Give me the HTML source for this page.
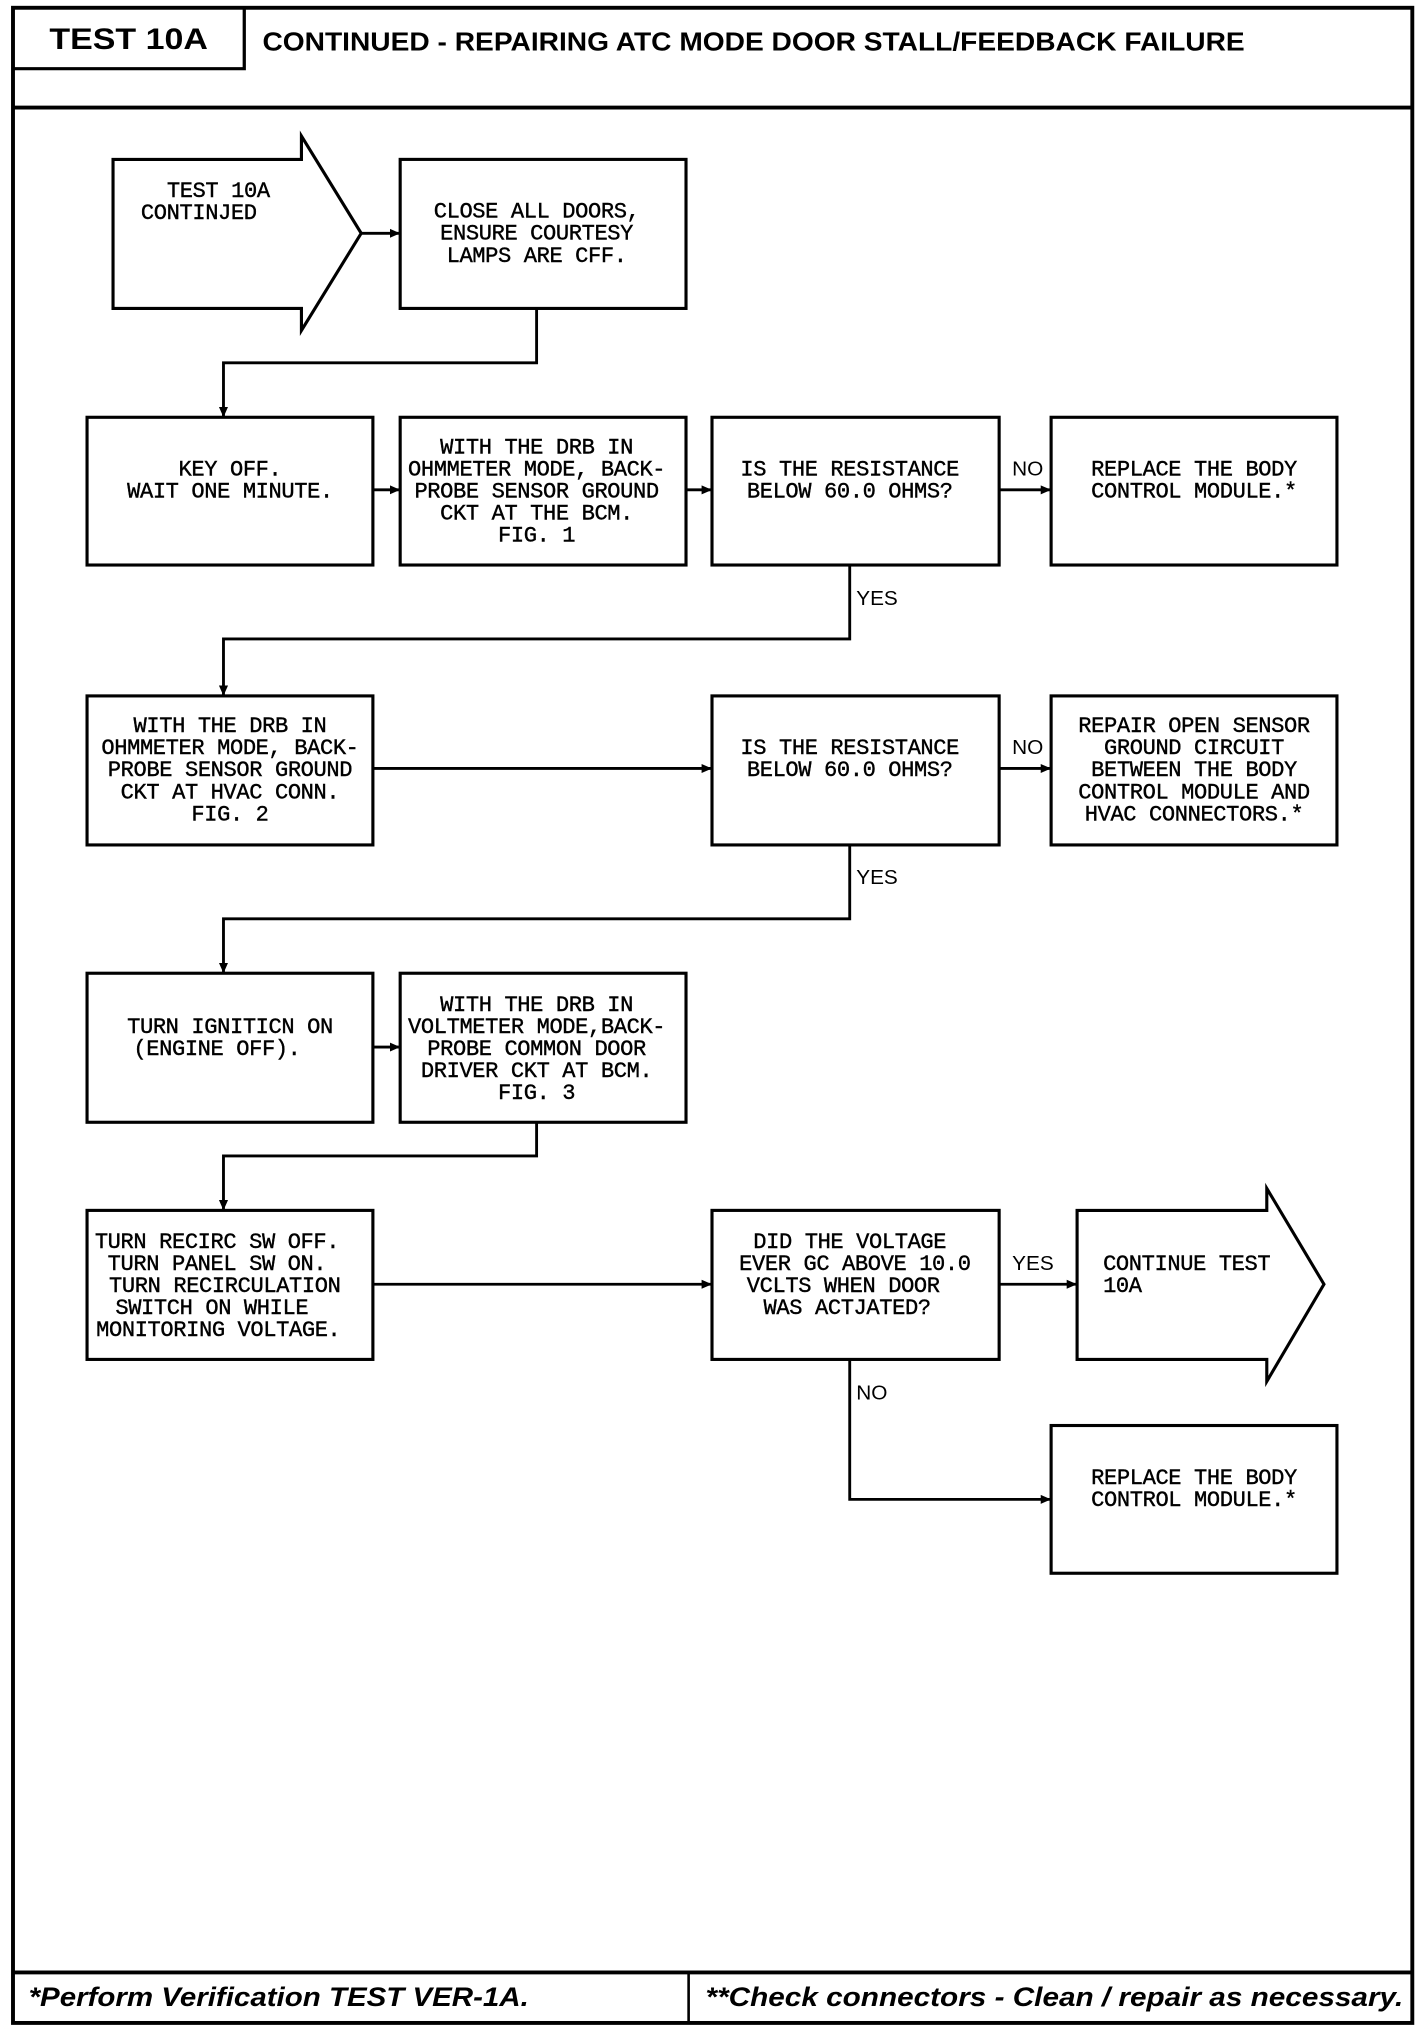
<!DOCTYPE html>
<html><head><meta charset="utf-8"><style>
html,body{margin:0;padding:0;background:#fff}
svg{display:block}
.t{font-family:"Liberation Mono",monospace;font-size:17px;fill:#000;text-anchor:middle;letter-spacing:-0.3px;stroke:#000;stroke-width:0.3}
.l{font-family:"Liberation Mono",monospace;font-size:17px;fill:#000;letter-spacing:-0.3px;stroke:#000;stroke-width:0.3}
.lab{font-family:"Liberation Sans",sans-serif;font-size:16px;fill:#000}
</style></head><body>
<svg width="1424" height="2032" viewBox="0 0 1096 1568" preserveAspectRatio="none" xmlns="http://www.w3.org/2000/svg">
<defs><marker id="a" markerWidth="8" markerHeight="8" refX="7" refY="4" orient="auto" markerUnits="userSpaceOnUse"><path d="M0,0.5 L8,4 L0,7.5z" fill="#000"/></marker></defs>
<g fill="none" stroke="#000">
<rect x="10" y="6" width="1077" height="1555" stroke-width="3"/>
<line x1="10" y1="83" x2="1087" y2="83" stroke-width="3"/>
<polyline points="10,53 188,53 188,6" stroke-width="2.5"/>
<line x1="10" y1="1522" x2="1087" y2="1522" stroke-width="3"/>
<line x1="530" y1="1522" x2="530" y2="1561" stroke-width="2"/>
<g stroke-width="2.4">
<polygon points="87,123 232,123 232,105 278,180 232,255 232,238 87,238"/>
<rect x="308" y="123" width="220" height="115"/>
<rect x="67" y="322" width="220" height="114"/>
<rect x="308" y="322" width="220" height="114"/>
<rect x="548" y="322" width="221" height="114"/>
<rect x="809" y="322" width="220" height="114"/>
<rect x="67" y="537" width="220" height="115"/>
<rect x="548" y="537" width="221" height="115"/>
<rect x="809" y="537" width="220" height="115"/>
<rect x="67" y="751" width="220" height="115"/>
<rect x="308" y="751" width="220" height="115"/>
<rect x="67" y="934" width="220" height="115"/>
<rect x="548" y="934" width="221" height="115"/>
<polygon points="829,934 975,934 975,917 1019,991 975,1066 975,1049 829,1049"/>
<rect x="809" y="1100" width="220" height="114"/>
</g>
<g stroke-width="2.2" marker-end="url(#a)">
<line x1="278" y1="180" x2="307" y2="180"/>
<polyline points="413,238 413,280 172,280 172,321"/>
<line x1="287" y1="378" x2="307" y2="378"/>
<line x1="528" y1="378" x2="547" y2="378"/>
<line x1="769" y1="378" x2="808" y2="378"/>
<polyline points="654,436 654,493 172,493 172,536"/>
<line x1="287" y1="593" x2="547" y2="593"/>
<line x1="769" y1="593" x2="808" y2="593"/>
<polyline points="654,652 654,709 172,709 172,750"/>
<line x1="287" y1="808" x2="307" y2="808"/>
<polyline points="413,866 413,892 172,892 172,933"/>
<line x1="287" y1="991" x2="547" y2="991"/>
<line x1="769" y1="991" x2="828" y2="991"/>
<polyline points="654,1049 654,1157 808,1157"/>
</g>
</g>
<text x="99" y="38" font-family="Liberation Sans,sans-serif" font-weight="bold" font-size="23" text-anchor="middle" textLength="122" lengthAdjust="spacingAndGlyphs">TEST 10A</text>
<text x="202" y="39" font-family="Liberation Sans,sans-serif" font-weight="bold" font-size="20" textLength="756" lengthAdjust="spacingAndGlyphs">CONTINUED - REPAIRING ATC MODE DOOR STALL/FEEDBACK FAILURE</text>
<text x="22" y="1548" font-family="Liberation Sans,sans-serif" font-weight="bold" font-style="italic" font-size="21" textLength="385" lengthAdjust="spacingAndGlyphs">*Perform Verification TEST VER-1A.</text>
<text x="543" y="1548" font-family="Liberation Sans,sans-serif" font-weight="bold" font-style="italic" font-size="21" textLength="537" lengthAdjust="spacingAndGlyphs">**Check connectors - Clean / repair as necessary.</text>
<g class="t">
<text x="168" y="152">TEST 10A</text><text x="153" y="169">CONTINJED</text>
<text x="413" y="168">CLOSE ALL DOORS,</text><text x="413" y="185">ENSURE COURTESY</text><text x="413" y="202">LAMPS ARE CFF.</text>
<text x="177" y="367">KEY OFF.</text><text x="177" y="384">WAIT ONE MINUTE.</text>
<text x="413" y="350">WITH THE DRB IN</text><text x="413" y="367">OHMMETER MODE, BACK-</text><text x="413" y="384">PROBE SENSOR GROUND</text><text x="413" y="401">CKT AT THE BCM.</text><text x="413" y="418">FIG. 1</text>
<text x="654" y="367">IS THE RESISTANCE</text><text x="654" y="384">BELOW 60.0 OHMS?</text>
<text x="919" y="367">REPLACE THE BODY</text><text x="919" y="384">CONTROL MODULE.*</text>
<text x="177" y="565">WITH THE DRB IN</text><text x="177" y="582">OHMMETER MODE, BACK-</text><text x="177" y="599">PROBE SENSOR GROUND</text><text x="177" y="616">CKT AT HVAC CONN.</text><text x="177" y="633">FIG. 2</text>
<text x="654" y="582">IS THE RESISTANCE</text><text x="654" y="599">BELOW 60.0 OHMS?</text>
<text x="919" y="565">REPAIR OPEN SENSOR</text><text x="919" y="582">GROUND CIRCUIT</text><text x="919" y="599">BETWEEN THE BODY</text><text x="919" y="616">CONTROL MODULE AND</text><text x="919" y="633">HVAC CONNECTORS.*</text>
<text x="177" y="797">TURN IGNITICN ON</text><text x="167" y="814">(ENGINE OFF).</text>
<text x="413" y="780">WITH THE DRB IN</text><text x="413" y="797">VOLTMETER MODE,BACK-</text><text x="413" y="814">PROBE COMMON DOOR</text><text x="413" y="831">DRIVER CKT AT BCM.</text><text x="413" y="848">FIG. 3</text>
<text x="167" y="963">TURN RECIRC SW OFF.</text><text x="167" y="980">TURN PANEL SW ON.</text><text x="173" y="997">TURN RECIRCULATION</text><text x="163" y="1014">SWITCH ON WHILE</text><text x="168" y="1031">MONITORING VOLTAGE.</text>
<text x="654" y="963">DID THE VOLTAGE</text><text x="658" y="980">EVER GC ABOVE 10.0</text><text x="649" y="997">VCLTS WHEN DOOR</text><text x="652" y="1014">WAS ACTJATED?</text>
<text x="919" y="1145">REPLACE THE BODY</text><text x="919" y="1162">CONTROL MODULE.*</text>
</g>
<text class="l" x="849" y="980">CONTINUE TEST</text><text class="l" x="849" y="997">10A</text>
<g class="lab">
<text x="779" y="367">NO</text><text x="779" y="582">NO</text>
<text x="659" y="467">YES</text><text x="659" y="682">YES</text>
<text x="779" y="980">YES</text><text x="659" y="1080">NO</text>
</g>
</svg>
</body></html>
